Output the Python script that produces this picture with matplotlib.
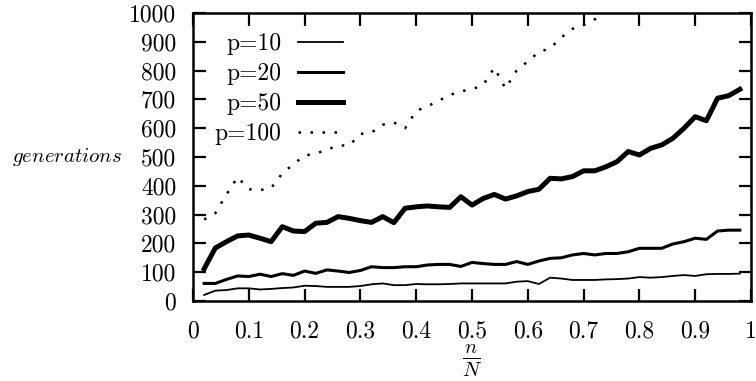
import matplotlib
matplotlib.use("Agg")
import matplotlib.pyplot as plt
import numpy as np

plt.rcParams['font.family'] = ['cmr10', 'DejaVu Serif']
plt.rcParams['mathtext.fontset'] = 'cm'
plt.rcParams['axes.formatter.use_mathtext'] = True

x_vals = [round(0.02 * k, 2) for k in range(1, 50)]

p10 = [21, 36, 38, 44, 44, 40, 42, 45, 47, 53, 52, 49, 49, 49, 52, 58, 61, 55, 55, 59,
       58, 58, 59, 61, 61, 61, 61, 61, 67, 69, 59, 81, 78, 73, 73, 73, 75, 76, 78, 83,
       81, 83, 87, 90, 87, 93, 94, 94, 95]
p20 = [61, 61, 75, 87, 85, 93, 85, 95, 89, 104, 96, 108, 104, 99, 106, 119, 116, 116, 119, 119,
       125, 127, 127, 120, 134, 130, 127, 127, 137, 127, 139, 148, 150, 160, 165, 160, 165, 165, 171, 183,
       183, 183, 198, 206, 218, 214, 243, 246, 246]
p50 = [112, 184, 206, 226, 229, 218, 206, 258, 243, 241, 270, 273, 293, 287, 279, 273, 293, 272, 322, 327,
       330, 327, 325, 362, 333, 356, 370, 354, 365, 380, 388, 426, 424, 432, 452, 452, 466, 484, 519, 507,
       530, 542, 565, 600, 640, 626, 704, 713, 735]
p100_x = x_vals[:38]
p100 = [283, 305, 370, 430, 388, 385, 392, 443, 475, 505, 512, 525, 540, 540, 580, 585, 612, 620, 600, 660,
        676, 695, 715, 728, 735, 750, 810, 738, 800, 832, 865, 877, 915, 945, 958, 978, 1010, 1040]

labels = ['p=10', 'p=20', 'p=50', 'p=100']
xticks = [0, 0.1, 0.2, 0.3, 0.4, 0.5, 0.6, 0.7, 0.8, 0.9, 1]
xticklabels = ['0', '0.1', '0.2', '0.3', '0.4', '0.5', '0.6', '0.7', '0.8', '0.9', '1']
yticks = list(range(0, 1001, 100))

fig = plt.figure(figsize=(7.56, 3.81), dpi=100)
ax = fig.add_axes([193/756, 1 - 301/381, (751-193)/756, (301-13)/381])

ax.plot(x_vals, p10, color='black', lw=1.3, label=labels[0])
ax.plot(x_vals, p20, color='black', lw=2.2, label=labels[1])
ax.plot(x_vals, p50, color='black', lw=3.6, label=labels[2], solid_joinstyle='round')
ax.plot(p100_x, p100, color='black', lw=1.8, linestyle=(0, (1, 3.8)),
        dash_capstyle='butt', label=labels[3])

ax.set_xlim(0, 1)
ax.set_ylim(0, 1000)
ax.set_xticks(xticks)
ax.set_xticklabels(xticklabels)
ax.set_yticks(yticks)
ax.set_yticklabels([str(v) for v in yticks])
ax.tick_params(direction='in', length=9, width=1.6, top=True, right=True,
               labelsize=17, pad=12)
ax.tick_params(axis='x', pad=14)
for s in ax.spines.values():
    s.set_linewidth(1.8)

ax.set_ylabel(r'$generations$', rotation=0, fontsize=15, va='center', ha='center')
ax.yaxis.set_label_coords(-0.226, 0.5)
ax.set_xlabel(r'$\frac{n}{N}$', fontsize=21, labelpad=0)

leg = ax.legend(loc='upper right', bbox_to_anchor=(0.268, 0.93), markerfirst=False,
                frameon=False, fontsize=17, handlelength=1.9, handletextpad=0.7,
                labelspacing=0.33, borderpad=0, borderaxespad=0)

fig.savefig('out.png', dpi=100)
